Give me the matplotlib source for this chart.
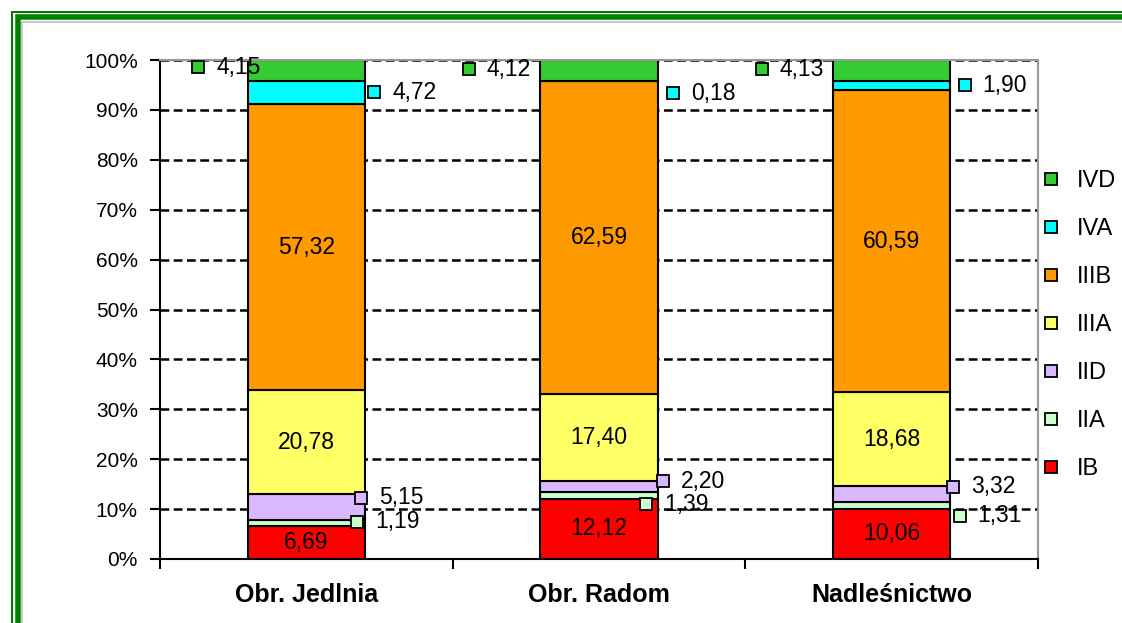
import matplotlib
matplotlib.use("Agg")
import matplotlib.pyplot as plt
import matplotlib.transforms as mtransforms
from matplotlib.patches import Rectangle
from matplotlib.lines import Line2D
import numpy as np

plt.rcParams['font.family'] = ['Liberation Sans', 'DejaVu Sans']

categories = ['Obr. Jedlnia', 'Obr. Radom', 'Nadleśnictwo']
series = ['IB', 'IIA', 'IID', 'IIIA', 'IIIB', 'IVA', 'IVD']
ib = [6.69, 12.12, 10.06]
iia = [1.19, 1.39, 1.31]
iid = [5.15, 2.20, 3.32]
iiia = [20.78, 17.40, 18.68]
iiib = [57.32, 62.59, 60.59]
iva = [4.72, 0.18, 1.90]
ivd = [4.15, 4.12, 4.13]
values = [ib, iia, iid, iiia, iiib, iva, ivd]

colors = ['#ff0000', '#ccffcc', '#d9b8ff', '#ffff66', '#ff9900', '#00ffff', '#33cc33']
inside = ['IB', 'IIIA', 'IIIB']
# label offsets for small segments, pixels (dx right, dy down)
offsets = {
    'IVD': [(-108, -3), (-130, -1), (-130, -1)],
    'IVA': [(68, 0), (74, 12), (73, 0)],
    'IID': [(55, -9), (64, -5), (61, -7)],
    'IIA': [(51, -1), (47, 9), (68, 10)],
}

W, H = 1122, 623
fig = plt.figure(figsize=(W / 100, H / 100), dpi=100)
ax = fig.add_axes([160 / W, 1 - 559 / H, (1038 - 160) / W, (559 - 60) / H])

x = np.arange(len(categories))
data = np.array(values)
# percentages of each bar
pct = data / data.sum(axis=0) * 100
bottoms = np.zeros(len(categories))

# gridlines
for yv in range(10, 101, 10):
    ax.axhline(yv, color='black', lw=1.8, ls=(0, (3.5, 1.8)), zorder=1)

for i, name in enumerate(series):
    ax.bar(x, pct[i], 0.4, bottom=bottoms, color=colors[i], edgecolor='black', lw=1.5, zorder=2)
    centers = bottoms + pct[i] / 2
    for j in range(len(categories)):
        txt = f"{values[i][j]:.2f}".replace('.', ',')
        if name in inside:
            ax.text(x[j], centers[j], txt, ha='center', va='center', fontsize=16.5, zorder=4)
        else:
            dx, dy = offsets[name][j]
            tr = mtransforms.offset_copy(ax.transData, fig=fig, x=dx, y=-dy, units='dots')
            ax.plot([x[j]], [centers[j]], marker='s', ms=9, mfc=colors[i], mec='black',
                    mew=1.3, transform=tr, clip_on=False, zorder=5)
            tr2 = mtransforms.offset_copy(ax.transData, fig=fig, x=dx + 18, y=-dy, units='dots')
            ax.text(x[j], centers[j], txt, ha='left', va='center', fontsize=16.5,
                    transform=tr2, zorder=5)
    bottoms = bottoms + pct[i]

ax.set_xlim(-0.5, 2.5)
ax.set_ylim(0, 100)
ax.set_yticks(range(0, 101, 10))
ax.set_yticklabels([f"{v}%" for v in range(0, 101, 10)], fontsize=15)
ax.tick_params(axis='y', direction='out', length=7, width=1.5, pad=9)
ax.set_xticks(x)
ax.set_xticklabels(categories, fontsize=18, fontweight='bold')
ax.set_xticks([-0.5, 0.5, 1.5, 2.5], minor=True)
ax.tick_params(axis='x', which='major', length=0, pad=17)
ax.tick_params(axis='x', which='minor', direction='out', length=7, width=1.5)

ax.spines['left'].set_linewidth(1.5)
ax.spines['bottom'].set_linewidth(1.5)
ax.spines['bottom'].set_zorder(3)
ax.spines['top'].set_color('#999999')
ax.spines['right'].set_color('#999999')
ax.spines['top'].set_linewidth(1.5)
ax.spines['right'].set_linewidth(1.5)

handles = [Line2D([], [], ls='none', marker='s', ms=9, mfc=colors[i], mec='black', mew=1.3)
           for i in range(len(series))][::-1]
ax.legend(handles, series[::-1], loc='upper left', bbox_to_anchor=(1043 / W, 1 - 170 / H),
          bbox_transform=fig.transFigure, frameon=False, fontsize=17, labelspacing=1.1,
          handlelength=0.7, handletextpad=0.75, borderpad=0, borderaxespad=0)

# green double frame
def frame(c, lw, color):
    fig.patches.append(Rectangle((c / W, -0.1), 1.2, 1 - c / H + 0.1, transform=fig.transFigure,
                                 fill=False, edgecolor=color, lw=lw * 0.72, zorder=0))

frame(12, 2, '#008000')
frame(17.5, 5.5, '#008000')
frame(22, 2, '#c8c8c8')

fig.savefig('out.png', dpi=100)
